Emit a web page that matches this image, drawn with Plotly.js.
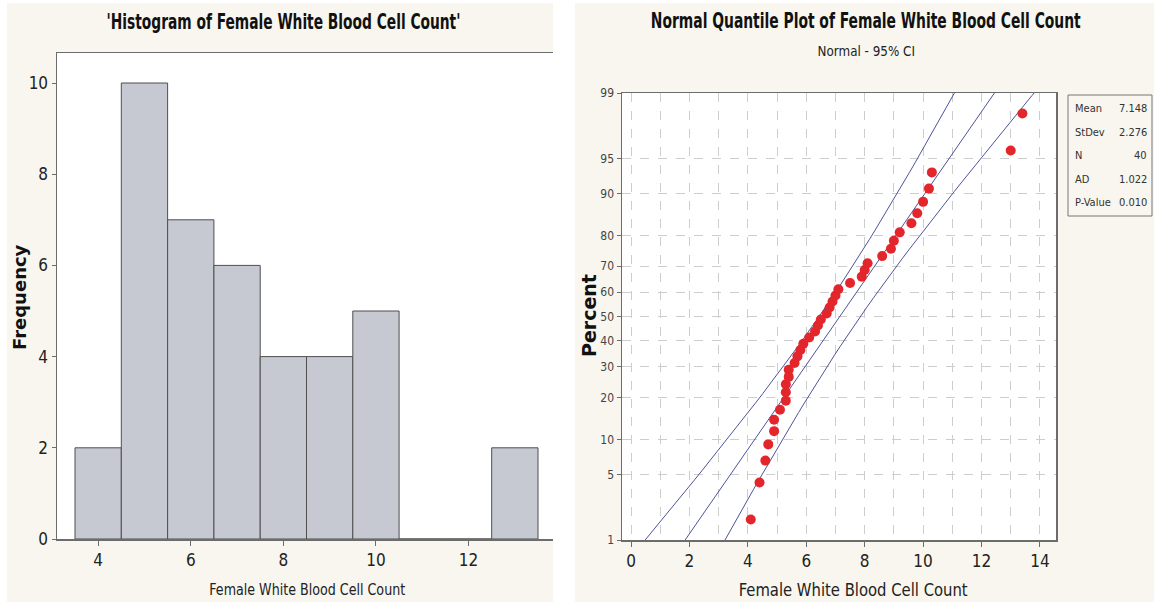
<!DOCTYPE html>
<html>
<head>
<meta charset="utf-8">
<script src="https://cdn.plot.ly/plotly-3.0.1.min.js"></script>
<style>
  html, body { margin: 0; padding: 0; background: #ffffff; }
  #chart { width: 1154px; height: 602px; }
</style>
</head>
<body>
<div id="chart"></div>
<script>
// ---- Histogram: bin midpoints and counts ----
const binMids = [4, 5, 6, 7, 8, 9, 10, 11, 12, 13];
const binCounts = [2, 10, 7, 6, 4, 4, 5, 0, 0, 2];
const histTicks = [4, 6, 8, 10, 12];

// ---- Female white blood cell counts, sorted ----
const wbc = [4.1, 4.4, 4.6, 4.7, 4.9, 4.9, 5.1, 5.3, 5.3, 5.3,
             5.4, 5.4, 5.6, 5.7, 5.8, 5.9, 6.1, 6.3, 6.4, 6.5,
             6.7, 6.8, 6.9, 7.0, 7.1, 7.5, 7.9, 8.0, 8.1, 8.6,
             8.9, 9.0, 9.2, 9.6, 9.8, 10.0, 10.2, 10.3, 13.0, 13.4];

// ---- Summary statistics shown in the side box ----
const statLabels = ['Mean', 'StDev', 'N', 'AD', 'P-Value'];
const statValues = ['7.148', '2.276', '40', '1.022', '0.010'];
const fitMean = 7.148, fitSd = 2.276, fitN = 40;

// Probability-axis tick labels (percent)
const pctTicks = [1, 5, 10, 20, 30, 40, 50, 60, 70, 80, 90, 95, 99];

// Inverse standard normal CDF (Acklam's rational approximation)
function normInv(p) {
  const a = [-3.969683028665376e+01, 2.209460984245205e+02, -2.759285104469687e+02,
             1.383577518672690e+02, -3.066479806614716e+01, 2.506628277459239e+00];
  const b = [-5.447609879822406e+01, 1.615858368580409e+02, -1.556989798598866e+02,
             6.680131188771972e+01, -1.328068155288572e+01];
  const c = [-7.784894002430293e-03, -3.223964580411365e-01, -2.400758277161838e+00,
             -2.549671010115819e+00, 4.374664141464968e+00, 2.938163982698783e+00];
  const d = [7.784695709041462e-03, 3.224671290700398e-01, 2.445134137142996e+00,
             3.754408661907416e+00];
  const pl = 0.02425, ph = 1 - pl;
  let q, r;
  if (p < pl) {
    q = Math.sqrt(-2 * Math.log(p));
    return (((((c[0]*q+c[1])*q+c[2])*q+c[3])*q+c[4])*q+c[5]) /
           ((((d[0]*q+d[1])*q+d[2])*q+d[3])*q+1);
  }
  if (p <= ph) {
    q = p - 0.5; r = q * q;
    return (((((a[0]*r+a[1])*r+a[2])*r+a[3])*r+a[4])*r+a[5])*q /
           (((((b[0]*r+b[1])*r+b[2])*r+b[3])*r+b[4])*r+1);
  }
  q = Math.sqrt(-2 * Math.log(1 - p));
  return -(((((c[0]*q+c[1])*q+c[2])*q+c[3])*q+c[4])*q+c[5]) /
          ((((d[0]*q+d[1])*q+d[2])*q+d[3])*q+1);
}

// Median-rank plotting positions for the sorted sample
const nObs = wbc.length;
const pointZ = wbc.map((v, i) => normInv((i + 1 - 0.3) / (nObs + 0.4)));
const pointPct = wbc.map((v, i) => (100 * (i + 1 - 0.3) / (nObs + 0.4)).toFixed(1));

// Fitted normal line and 95% confidence band for percentiles
const zGrid = [];
for (let k = 0; k <= 60; k++) zGrid.push(-3 + k * 0.1);
const fitX = zGrid.map(z => fitMean + fitSd * z);
const halfW = zGrid.map(z => 1.96 * fitSd * Math.sqrt((1 + z * z / 2) / fitN));
const loX = fitX.map((x, i) => x - halfW[i]);
const hiX = fitX.map((x, i) => x + halfW[i]);

// Canvas helpers (margins are zero, so paper coords span the whole page)
const W = 1154, H = 602;
const px = v => v / W;
const py = v => 1 - v / H;

const NARROW = 'Liberation Sans Narrow, DejaVu Sans Condensed, sans-serif';
const BOLDSANS = 'DejaVu Sans, Verdana, sans-serif';
const AXIS_COL = '#6c6c6c';
const GRID_COL = '#cdcdcd';
const LINE_COL = '#4d5399';

const traces = [
  {
    type: 'bar', x: binMids, y: binCounts, width: 1,
    marker: { color: '#c6c9d1', line: { color: '#4f4f4f', width: 1 } },
    xaxis: 'x', yaxis: 'y', hoverinfo: 'x+y'
  },
  {
    type: 'scatter', mode: 'lines', x: loX, y: zGrid,
    line: { color: LINE_COL, width: 1 }, xaxis: 'x2', yaxis: 'y2', hoverinfo: 'skip'
  },
  {
    type: 'scatter', mode: 'lines', x: fitX, y: zGrid,
    line: { color: LINE_COL, width: 1 }, xaxis: 'x2', yaxis: 'y2', hoverinfo: 'skip'
  },
  {
    type: 'scatter', mode: 'lines', x: hiX, y: zGrid,
    line: { color: LINE_COL, width: 1 }, xaxis: 'x2', yaxis: 'y2', hoverinfo: 'skip'
  },
  {
    type: 'scatter', mode: 'markers', x: wbc, y: pointZ, text: pointPct,
    marker: { color: '#e3262b', size: 10, line: { width: 0 } },
    xaxis: 'x2', yaxis: 'y2',
    hovertemplate: '%{x}<br>%{text}%<extra></extra>'
  }
];

// squeeze: horizontal compression applied to the rendered text
const annotations = [
  { text: "<b>'Histogram of Female White Blood Cell Count'</b>", x: px(283), y: py(22),
    font: { family: NARROW, size: 21, color: '#111' }, squeeze: 0.73 },
  { text: '<b>Normal Quantile Plot of Female White Blood Cell Count</b>', x: px(866), y: py(21),
    font: { family: NARROW, size: 21, color: '#111' }, squeeze: 0.735 },
  { text: 'Normal - 95% CI', x: px(866), y: py(51),
    font: { family: NARROW, size: 14, color: '#222' }, squeeze: 0.95 },
  { text: 'Female White Blood Cell Count', x: px(307), y: py(590),
    font: { family: NARROW, size: 15, color: '#222' }, squeeze: 0.94 },
  { text: 'Female White Blood Cell Count', x: px(853), y: py(590),
    font: { family: NARROW, size: 17, color: '#222' }, squeeze: 0.97 },
  { text: '<b>Frequency</b>', x: px(19), y: py(297), textangle: -90,
    font: { family: BOLDSANS, size: 18, color: '#111' } },
  { text: '<b>Percent</b>', x: px(589), y: py(316), textangle: -90,
    font: { family: BOLDSANS, size: 19, color: '#111' } }
].map(a => Object.assign({ xref: 'paper', yref: 'paper', showarrow: false,
                           xanchor: 'center', yanchor: 'middle' }, a));

// Summary statistics box
const rowY = [108, 132, 156, 180, 203];
statLabels.forEach((lab, i) => {
  annotations.push({ text: lab, x: px(1073), y: py(rowY[i]), xref: 'paper', yref: 'paper',
    showarrow: false, xanchor: 'left', yanchor: 'middle',
    font: { family: NARROW, size: 11, color: '#333' } });
  annotations.push({ text: statValues[i], x: px(1149), y: py(rowY[i]), xref: 'paper', yref: 'paper',
    showarrow: false, xanchor: 'right', yanchor: 'middle',
    font: { family: NARROW, size: 11, color: '#333' } });
});
const squeezes = annotations.map(a => a.squeeze || 1);
annotations.forEach(a => { delete a.squeeze; });

const shapes = [
  // white gutters around the two beige panels
  { type: 'rect', xref: 'paper', yref: 'paper', x0: 0, x1: px(7), y0: 0, y1: 1,
    fillcolor: '#ffffff', line: { width: 0 }, layer: 'below' },
  { type: 'rect', xref: 'paper', yref: 'paper', x0: px(553), x1: px(575), y0: 0, y1: 1,
    fillcolor: '#ffffff', line: { width: 0 }, layer: 'below' },
  { type: 'rect', xref: 'paper', yref: 'paper', x0: 0, x1: 1, y0: py(3), y1: 1,
    fillcolor: '#ffffff', line: { width: 0 }, layer: 'below' },
  // statistics box frame
  { type: 'rect', xref: 'paper', yref: 'paper', x0: px(1068), x1: px(1152), y0: py(216), y1: py(95),
    fillcolor: 'rgba(0,0,0,0)', line: { color: '#777', width: 1 } }
];

const tickFont = { family: NARROW, size: 17, color: '#222' };

const layout = {
  width: W, height: H,
  margin: { l: 0, r: 0, t: 0, b: 0 },
  paper_bgcolor: '#f8f6ee',
  plot_bgcolor: '#ffffff',
  showlegend: false,
  xaxis: {
    domain: [px(57), px(553)], range: [3.111, 13.824],
    tickvals: histTicks, ticks: 'outside', ticklen: 5, tickcolor: AXIS_COL,
    showline: true, linecolor: AXIS_COL, linewidth: 1.5, mirror: true,
    showgrid: false, zeroline: false, tickfont: tickFont, anchor: 'y'
  },
  yaxis: {
    domain: [py(539), py(53)], range: [0, 10.658],
    dtick: 2, tick0: 0, ticks: 'outside', ticklen: 4, tickcolor: AXIS_COL,
    showline: true, linecolor: AXIS_COL, linewidth: 1.5,
    showgrid: false, zeroline: false, tickfont: tickFont, anchor: 'x'
  },
  xaxis2: {
    domain: [px(622), px(1056)], range: [-0.308, 14.55],
    dtick: 2, tick0: 0, ticks: 'outside', ticklen: 5, tickcolor: AXIS_COL,
    showline: true, linecolor: AXIS_COL, linewidth: 1.5, mirror: true,
    showgrid: true, gridcolor: GRID_COL, griddash: 'dash', gridwidth: 1,
    minor: { dtick: 1, showgrid: true, gridcolor: GRID_COL, griddash: 'dash', gridwidth: 1 },
    zeroline: false, tickfont: tickFont, anchor: 'y2'
  },
  yaxis2: {
    domain: [py(540), py(93)], range: [normInv(0.01), normInv(0.99)],
    tickvals: pctTicks.map(p => normInv(p / 100)),
    ticktext: pctTicks.map(String),
    ticks: 'outside', ticklen: 4, tickcolor: AXIS_COL,
    showline: true, linecolor: AXIS_COL, linewidth: 1.5, mirror: true,
    showgrid: true, gridcolor: GRID_COL, griddash: 'dash', gridwidth: 1,
    zeroline: false, tickfont: { family: NARROW, size: 12, color: '#444' }, anchor: 'x2'
  },
  annotations: annotations,
  shapes: shapes
};

Plotly.newPlot('chart', traces, layout, { displayModeBar: false, staticPlot: true })
  .then(gd => {
    // condense the heading and axis-title text horizontally about its centre
    gd.querySelectorAll('g.annotation').forEach(g => {
      const idx = +g.getAttribute('data-index');
      const f = squeezes[idx];
      if (!f || f === 1) return;
      const t = g.querySelector('text.annotation-text');
      if (!t) return;
      const cx = parseFloat(t.getAttribute('x')) || 0;
      t.setAttribute('transform',
        'translate(' + cx + ',0) scale(' + f + ',1) translate(' + (-cx) + ',0)');
    });
  });
</script>
</body>
</html>
